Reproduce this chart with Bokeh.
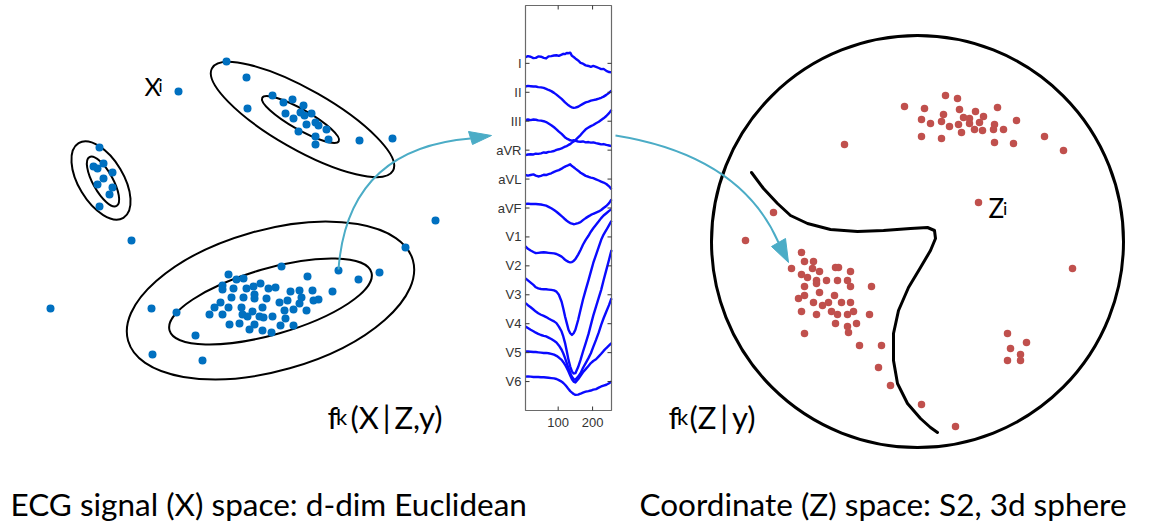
import numpy as np
from bokeh.plotting import figure
from bokeh.models import Range1d
from bokeh.core.properties import value
from bokeh.embed import file_html
from bokeh.resources import INLINE

W, H = 1168, 529

BLUE = "#0070C0"
RED = "#C0504D"
TEAL = "#4BACC6"
ECG_BLUE = "#0a0aff"
LABEL_FONT = "Lato"

# ---- observations X_i in the d-dim Euclidean signal space (page units) ----
X_PTS_X = [226, 246, 178, 247, 272, 283, 292, 303, 285, 293, 300, 304, 311, 306, 315, 318, 326, 298, 315, 328,
           315, 359, 392,
           99, 93, 97, 103, 112, 103, 97, 112, 109, 99,
           131, 435, 405, 50,
           281, 338, 379, 358, 307, 228, 236, 243, 222, 222, 233, 246, 253, 260, 268, 275, 290, 299, 312, 332,
           231, 243, 254, 254, 266, 279, 287, 301, 299, 313, 318, 220, 214, 228, 241, 252, 262, 284, 293, 306,
           209, 222, 242, 247, 259, 263, 272, 285, 229, 239, 254, 249, 262, 271, 280, 293,
           176, 151, 195, 152, 202]
X_PTS_Y = [61, 77, 91, 108, 95, 102, 99, 105, 113, 118, 112, 115, 113, 124, 122, 125, 129, 131, 136, 139,
           144, 140, 138,
           147, 166, 168, 163, 172, 178, 184, 187, 194, 206,
           240, 220, 247, 308,
           266, 270, 272, 279, 276, 274, 279, 278, 285, 289, 288, 288, 286, 283, 288, 287, 291, 290, 290, 291,
           297, 297, 294, 298, 298, 302, 300, 297, 303, 300, 299, 302, 307, 307, 307, 311, 307, 310, 309, 310,
           314, 314, 314, 316, 316, 317, 316, 318, 324, 323, 324, 329, 330, 332, 325, 325,
           312, 308, 335, 354, 360]

# ---- density contours f_k(X|Z,y): centre, axes, rotation ----
ELL_X = [302, 300, 100.5, 102.5, 270, 270]
ELL_Y = [119, 119, 180, 181, 300, 301]
ELL_W = [208, 88, 87, 56, 296, 210]
ELL_H = [60, 20, 45, 20, 141, 66]
ELL_ANGLE = [-29.6, -29.6, -59, -61, 15.8, 16]

# ---- coordinates Z_i on the sphere (page units) ----
Z_PTS_X = [945, 957, 904, 924, 959, 975, 997, 943, 963, 969, 983, 921, 930, 941, 949, 958, 969, 979, 994,
           1016, 961, 974, 982, 993, 1003, 921, 941, 994, 1013, 1044, 1063, 844,
           978, 773, 745, 1072,
           801, 804, 813, 791, 812, 819, 835, 838, 850, 801, 807, 816, 816, 826, 837, 847, 850, 871, 804,
           819, 834, 798, 804, 813, 822, 828, 841, 850, 801, 816, 831, 837, 847, 853, 869, 835, 847, 856,
           848, 804, 859, 881, 878, 890, 921, 955,
           1007, 1026, 1010, 1020, 1007, 1020]
Z_PTS_Y = [95, 98, 106, 108, 109, 111, 107, 114, 117, 118, 116, 119, 123, 121, 126, 124, 123, 122, 124,
           120, 132, 129, 130, 129, 129, 136, 138, 142, 143, 136, 150, 144,
           202, 212, 240, 268,
           252, 261, 261, 268, 268, 271, 267, 267, 271, 274, 277, 280, 283, 280, 280, 280, 286, 286, 286,
           292, 295, 298, 295, 302, 305, 302, 302, 302, 311, 314, 311, 314, 314, 311, 314, 323, 326, 323,
           332, 333, 345, 345, 367, 385, 404, 426,
           333, 342, 348, 354, 360, 360]

# sphere outline and class boundary on it
SPHERE_X, SPHERE_Y, SPHERE_R = 917, 241, 206
BOUNDARY_X = [751, 763, 777, 790, 807, 830, 857, 883, 910, 927, 934, 935, 930, 920, 908, 898, 893, 893,
              897, 907, 920, 930, 937]
BOUNDARY_Y = [172, 188, 203, 215, 223, 229, 231, 230, 228, 227, 230, 238, 250, 267, 287, 310, 333, 360,
              383, 403, 418, 427, 432]

# curved arrows: (start, control, end) and arrow heads
ARROW_X0 = [338, 615]
ARROW_Y0 = [269, 135]
ARROW_CX = [347, 740]
ARROW_CY = [148, 155]
ARROW_X1 = [470, 778]
ARROW_Y1 = [138, 242]
HEAD_XS = [[468, 472, 491], [771, 785, 788]]
HEAD_YS = [[131, 144, 135], [246, 238, 262]]

# ---- 12-lead ECG panel ----
ECG_BOX = dict(left=525, right=611, top=5, bottom=410)   # page units
ECG_S_LIM = (5, 255)                                        # samples
ECG_U_LIM = (0, 14)                                         # lead offsets
LEAD_NAMES = ["I", "II", "III", "aVR", "aVL", "aVF", "V1", "V2", "V3", "V4", "V5", "V6"]
LEAD_LEVELS = [12, 11, 10, 9, 8, 7, 6, 5, 4, 3, 2, 1]
ECG_TICKS_X = [100, 200]
ECG_SAMPLES = [5, 12, 20, 28, 35, 42, 50, 58, 65, 72, 80, 88, 95, 102, 110, 115, 120, 125, 130, 135, 140,
               145, 150, 158, 165, 172, 180, 188, 195, 202, 210, 218, 225, 232, 240, 248, 255]
LEAD_I = [0.21, 0.25, 0.23, 0.18, 0.19, 0.24, 0.23, 0.19, 0.17, 0.24, 0.25, 0.27, 0.28, 0.26, 0.30, 0.33, 0.32,
          0.36, 0.35, 0.37, 0.26, 0.22, 0.17, 0.10, 0.02, -0.01, -0.07, -0.09, -0.12, -0.09, -0.12, -0.16,
          -0.20, -0.19, -0.26, -0.30, -0.31]
LEAD_II = [0.20, 0.22, 0.21, 0.20, 0.20, 0.18, 0.17, 0.15, 0.12, 0.08, 0.04, -0.02, -0.08, -0.15, -0.23, -0.29,
           -0.35, -0.40, -0.45, -0.49, -0.52, -0.54, -0.53, -0.50, -0.45, -0.40, -0.35, -0.32, -0.29, -0.27,
           -0.25, -0.22, -0.19, -0.15, -0.09, -0.02, 0.06]
LEAD_III = [0.04, 0.06, 0.04, 0.06, 0.05, 0.03, 0.02, 0.00, -0.03, -0.08, -0.14, -0.21, -0.28, -0.36, -0.44,
            -0.50, -0.56, -0.60, -0.63, -0.66, -0.67, -0.66, -0.68, -0.70, -0.71, -0.70, -0.73, -0.72, -0.74,
            -0.73, -0.76, -0.78, -0.80, -0.79, -0.82, -0.84, -0.86]
LEAD_AVR = [-0.17, -0.15, -0.14, -0.15, -0.12, -0.13, -0.11, -0.08, -0.09, -0.06, -0.05, -0.03, 0.01, 0.03,
            0.06, 0.09, 0.12, 0.14, 0.18, 0.21, 0.26, 0.30, 0.35, 0.44, 0.52, 0.62, 0.72, 0.78, 0.83, 0.87,
            0.93, 0.98, 1.04, 1.10, 1.18, 1.28, 1.39]
LEAD_AVL = [0.14, 0.12, 0.14, 0.16, 0.12, 0.09, 0.11, 0.15, 0.14, 0.17, 0.20, 0.25, 0.28, 0.31, 0.36, 0.40,
            0.43, 0.46, 0.48, 0.51, 0.45, 0.41, 0.36, 0.29, 0.22, 0.17, 0.11, 0.08, 0.05, 0.03, -0.01, -0.05,
            -0.09, -0.12, -0.17, -0.25, -0.35]
LEAD_AVF = [0.14, 0.15, 0.14, 0.14, 0.14, 0.13, 0.12, 0.10, 0.08, 0.04, -0.01, -0.07, -0.13, -0.20, -0.28,
            -0.33, -0.39, -0.44, -0.48, -0.52, -0.54, -0.56, -0.55, -0.52, -0.49, -0.42, -0.35, -0.29, -0.24,
            -0.20, -0.16, -0.12, -0.07, 0.00, 0.07, 0.17, 0.30]
LEAD_V1 = [-0.33, -0.41, -0.47, -0.52, -0.56, -0.55, -0.54, -0.53, -0.54, -0.55, -0.56, -0.57, -0.59, -0.63,
           -0.68, -0.73, -0.79, -0.83, -0.86, -0.88, -0.87, -0.83, -0.77, -0.61, -0.45, -0.27, -0.10, 0.04,
           0.18, 0.30, 0.42, 0.54, 0.65, 0.74, 0.82, 0.90, 0.96]
LEAD_V2 = [-0.43, -0.50, -0.58, -0.66, -0.74, -0.78, -0.80, -0.81, -0.81, -0.82, -0.83, -0.85, -0.89, -1.00,
           -1.24, -1.48, -1.75, -1.98, -2.21, -2.33, -2.39, -2.33, -2.21, -1.87, -1.52, -1.17, -0.83, -0.50,
           -0.20, 0.10, 0.38, 0.66, 0.90, 1.08, 1.24, 1.41, 1.56]
LEAD_V3 = [-0.29, -0.36, -0.43, -0.51, -0.58, -0.64, -0.69, -0.73, -0.77, -0.82, -0.87, -0.92, -0.98, -1.10,
           -1.27, -1.45, -1.67, -1.95, -2.25, -2.48, -2.65, -2.72, -2.71, -2.50, -2.25, -1.97, -1.67, -1.36,
           -1.04, -0.72, -0.41, -0.10, 0.17, 0.50, 0.86, 1.22, 1.55]
LEAD_V4 = [-0.10, -0.15, -0.21, -0.26, -0.31, -0.35, -0.39, -0.42, -0.44, -0.48, -0.53, -0.59, -0.65, -0.75,
           -0.90, -1.03, -1.19, -1.36, -1.54, -1.70, -1.83, -1.91, -1.94, -1.83, -1.71, -1.53, -1.36, -1.19,
           -1.02, -0.80, -0.56, -0.30, -0.04, 0.19, 0.42, 0.65, 0.88]
LEAD_V5 = [0.04, 0.04, 0.03, 0.02, 0.02, 0.01, 0.00, -0.01, -0.01, -0.02, -0.04, -0.07, -0.11, -0.17, -0.25,
           -0.33, -0.42, -0.53, -0.65, -0.79, -0.92, -1.00, -1.03, -0.92, -0.80, -0.68, -0.57, -0.46, -0.36,
           -0.29, -0.23, -0.13, -0.04, 0.06, 0.16, 0.25, 0.33]
LEAD_V6 = [0.17, 0.18, 0.17, 0.16, 0.16, 0.16, 0.15, 0.15, 0.14, 0.13, 0.12, 0.11, 0.09, 0.05, 0.00, -0.05,
           -0.11, -0.18, -0.26, -0.33, -0.38, -0.43, -0.46, -0.45, -0.42, -0.38, -0.35, -0.33, -0.31, -0.28,
           -0.26, -0.21, -0.17, -0.14, -0.11, -0.06, 0.00]
LEADS = [LEAD_I, LEAD_II, LEAD_III, LEAD_AVR, LEAD_AVL, LEAD_AVF,
         LEAD_V1, LEAD_V2, LEAD_V3, LEAD_V4, LEAD_V5, LEAD_V6]

CAPTIONS = ["ECG signal (X) space: d-dim Euclidean", "Coordinate (Z) space: S2, 3d sphere"]
CAPTION_X = [10, 639]
CAPTION_Y = [503, 503]

# ---------------------------------------------------------------------------
p = figure(width=W, height=H, x_range=Range1d(0, W), y_range=Range1d(H, 0),
           x_axis_type=None, y_axis_type=None, output_backend="svg",
           toolbar_location=None, min_border=0)
p.grid.visible = False
p.outline_line_color = None
p.background_fill_color = "white"
p.border_fill_color = "white"

# ECG panel gets its own ranges so that samples / lead offsets map into the box
sx = (ECG_BOX["right"] - ECG_BOX["left"]) / (ECG_S_LIM[1] - ECG_S_LIM[0])
sy = (ECG_BOX["bottom"] - ECG_BOX["top"]) / (ECG_U_LIM[1] - ECG_U_LIM[0])
p.extra_x_ranges = {"ecg": Range1d(ECG_S_LIM[0] - ECG_BOX["left"] / sx,
                                   ECG_S_LIM[1] + (W - ECG_BOX["right"]) / sx)}
p.extra_y_ranges = {"ecg": Range1d(ECG_U_LIM[0] - (H - ECG_BOX["bottom"]) / sy,
                                   ECG_U_LIM[1] + ECG_BOX["top"] / sy)}
ecg = dict(x_range_name="ecg", y_range_name="ecg")

# --- left: signal space clusters ---
p.ellipse(x=ELL_X, y=ELL_Y, width=ELL_W, height=ELL_H, angle=ELL_ANGLE, angle_units="deg",
          fill_color=None, line_color="black", line_width=2)
p.scatter(X_PTS_X, X_PTS_Y, size=8, fill_color=BLUE, line_color=None)

# --- right: sphere ---
p.ellipse(x=[SPHERE_X], y=[SPHERE_Y], width=[2 * SPHERE_R], height=[2 * SPHERE_R],
          fill_color=None, line_color="black", line_width=3)
p.line(BOUNDARY_X, BOUNDARY_Y, line_color="black", line_width=3, line_join="round", line_cap="round")
p.scatter(Z_PTS_X, Z_PTS_Y, size=7.5, fill_color=RED, line_color=None)

# --- arrows ---
p.quadratic(x0=ARROW_X0, y0=ARROW_Y0, x1=ARROW_X1, y1=ARROW_Y1, cx=ARROW_CX, cy=ARROW_CY,
            line_color=TEAL, line_width=2)
p.patches(HEAD_XS, HEAD_YS, fill_color=TEAL, line_color=TEAL, line_width=1)

# --- ECG panel ---
p.multi_line(xs=[ECG_SAMPLES] * len(LEADS),
             ys=[[lvl + a for a in amp] for lvl, amp in zip(LEAD_LEVELS, LEADS)],
             line_color=ECG_BLUE, line_width=2.4, line_join="round", **ecg)
p.quad(left=[ECG_S_LIM[0]], right=[ECG_S_LIM[1]], bottom=[ECG_U_LIM[0]], top=[ECG_U_LIM[1]],
       fill_color=None, line_color="#6a6a6a", line_width=1.2, **ecg)
tick_s = 4 / sx
tick_u = 4 / sy
n = len(LEAD_LEVELS)
p.segment(x0=[ECG_S_LIM[0]] * n + [ECG_S_LIM[1] - tick_s] * n,
          x1=[ECG_S_LIM[0] + tick_s] * n + [ECG_S_LIM[1]] * n,
          y0=LEAD_LEVELS * 2, y1=LEAD_LEVELS * 2, line_color="#333333", line_width=1, **ecg)
p.segment(x0=ECG_TICKS_X * 2, x1=ECG_TICKS_X * 2,
          y0=[ECG_U_LIM[0]] * 2 + [ECG_U_LIM[1]] * 2,
          y1=[ECG_U_LIM[0] + tick_u] * 2 + [ECG_U_LIM[1] - tick_u] * 2,
          line_color="#333333", line_width=1, **ecg)
p.text(x=[ECG_S_LIM[0]] * n, y=LEAD_LEVELS, text=LEAD_NAMES, x_offset=-4,
       text_align="right", text_baseline="middle", text_font=value("Liberation Sans"),
       text_font_size="13px", text_color="#333333", **ecg)
p.text(x=ECG_TICKS_X, y=[ECG_U_LIM[0]] * 2, text=[str(t) for t in ECG_TICKS_X], y_offset=7,
       text_align="center", text_baseline="top", text_font=value("Liberation Sans"),
       text_font_size="13px", text_color="#333333", **ecg)

# --- labels ---
def label(x, y, txt, size, align="left"):
    p.text(x=[x], y=[y], text=[txt], text_font=value(LABEL_FONT), text_font_size=f"{size}px",
           text_align=align, text_baseline="alphabetic", text_color="black")

label(144, 85, "X", 25)
label(158, 85, "i", 17)
label(988, 207, "Z", 26)
label(1002.5, 207, "i", 18)
label(327, 416, "f", 31)
label(335.5, 416, "k", 22)
label(350, 416, "(X\u2009|\u2009Z,y)", 31)
label(668, 416, "f", 31)
label(676.5, 416, "k", 22)
label(689, 416, "(Z\u2009|\u2009y)", 31)

p.text(x=CAPTION_X, y=CAPTION_Y, text=CAPTIONS, text_font=value(LABEL_FONT), text_font_size="31.5px",
       text_align="left", text_baseline="alphabetic", text_color="black")

open("out.html", "w").write(file_html(p, INLINE))
